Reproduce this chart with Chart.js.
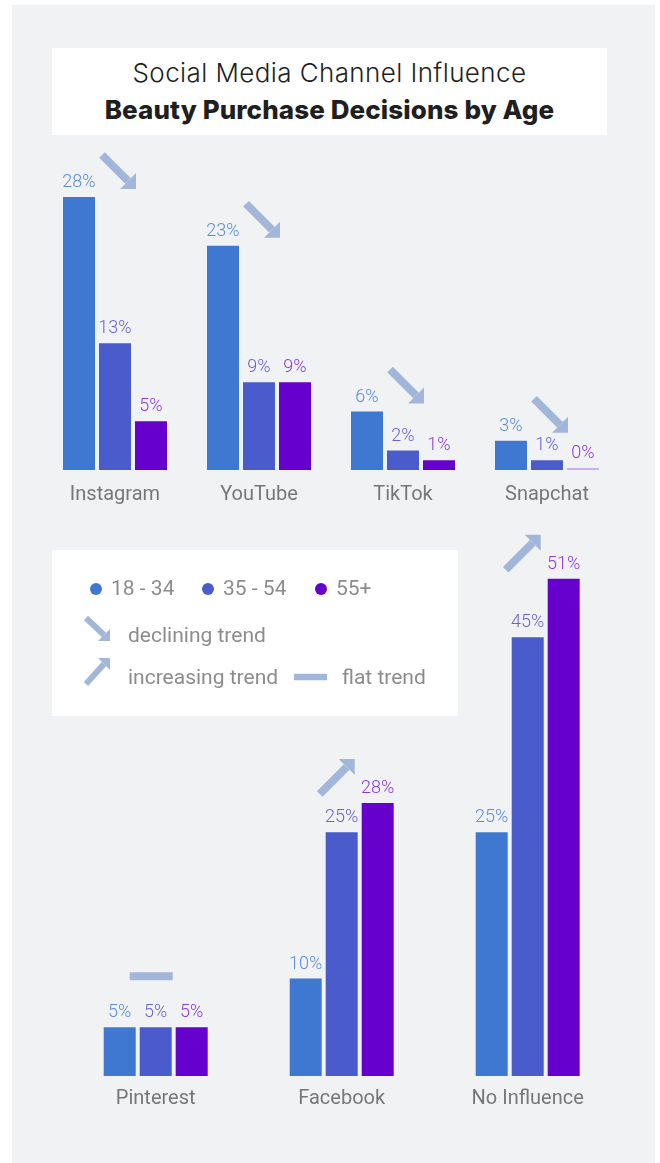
<!DOCTYPE html>
<html lang="en">
<head>
<meta charset="utf-8">
<title>Social Media Channel Influence</title>
<script src="https://cdn.jsdelivr.net/npm/chart.js@4.4.1/dist/chart.umd.min.js"></script>
<style>
  html, body { margin: 0; padding: 0; background: #fff; }
  body { position: relative; width: 660px; height: 1163px; overflow: hidden; }
  .panel { position: absolute; left: 12px; top: 5px; width: 643px; height: 1158px; background: #f1f2f4; }
  .title-box { position: absolute; left: 52px; top: 48px; width: 555px; height: 87px; background: #fff; }
  .title-box div { position: absolute; left: 0; right: 0; text-align: center; font-family: Inter, sans-serif; color: #1f1f1f; white-space: nowrap; }
  .title-box .line1 { top: 12px; font-size: 26px; line-height: 26px; font-weight: 300; letter-spacing: 0.4px; }
  .title-box .line2 { top: 49px; font-size: 26px; line-height: 26px; font-weight: 800; letter-spacing: 0.1px; }
  canvas { position: absolute; left: 0; }
  #topChart { top: 140px; }
  #bottomChart { top: 500px; }
  #legend { left: 52px; top: 550px; }
</style>
</head>
<body>
<div class="panel"></div>
<div class="title-box">
  <div class="line1">Social Media Channel Influence</div>
  <div class="line2">Beauty Purchase Decisions by Age</div>
</div>
<canvas id="topChart" width="660" height="380"></canvas>
<canvas id="bottomChart" width="660" height="640"></canvas>
<canvas id="legend" width="406" height="166"></canvas>
<script>
// data
const ageGroups = ['18 - 34', '35 - 54', '55+'];

const topChannels = ['Instagram', 'YouTube', 'TikTok', 'Snapchat'];
const topAge18to34 = [28, 23, 6, 3];
const topAge35to54 = [13, 9, 2, 1];
const topAge55plus = [5, 9, 1, 0];
const topTrends = ['down', 'down', 'down', 'down'];

const bottomChannels = ['Pinterest', 'Facebook', 'No Influence'];
const bottomAge18to34 = [5, 10, 25];
const bottomAge35to54 = [5, 25, 45];
const bottomAge55plus = [5, 28, 51];
const bottomTrends = ['flat', 'up', 'up'];

// styling
const barColors = ['#3f78d0', '#4a5ccb', '#6600cc'];
const labelColors = ['#5a8de0', '#6a62d6', '#8a3cdc'];
const zeroBarColor = '#cdb0f0';
const trendColor = '#a2b6da';
const axisColor = '#777777';
const legendTextColor = '#8c8c8c';

// thick arrow with a right-angled head at (x2, y2)
function drawArrow(ctx, x1, y1, x2, y2, head, width) {
  const dx = Math.sign(x2 - x1);
  const dy = Math.sign(y2 - y1);
  ctx.save();
  ctx.strokeStyle = trendColor;
  ctx.fillStyle = trendColor;
  ctx.lineWidth = width;
  ctx.beginPath();
  ctx.moveTo(x1, y1);
  ctx.lineTo(x2 - dx * head / 2, y2 - dy * head / 2);
  ctx.stroke();
  ctx.beginPath();
  ctx.moveTo(x2, y2);
  ctx.lineTo(x2 - dx * head, y2);
  ctx.lineTo(x2, y2 - dy * head);
  ctx.closePath();
  ctx.fill();
  ctx.restore();
}

function drawFlat(ctx, x1, x2, y, thickness) {
  ctx.save();
  ctx.fillStyle = trendColor;
  ctx.fillRect(x1, y - thickness / 2, x2 - x1, thickness);
  ctx.restore();
}

// percentage above every bar
const valueLabels = {
  id: 'valueLabels',
  afterDatasetsDraw(chart) {
    const {ctx} = chart;
    ctx.save();
    ctx.font = '300 18px Roboto';
    ctx.textAlign = 'center';
    ctx.textBaseline = 'alphabetic';
    chart.data.datasets.forEach((ds, d) => {
      ctx.fillStyle = labelColors[d];
      chart.getDatasetMeta(d).data.forEach((bar, i) => {
        ctx.fillText(ds.data[i] + '%', bar.x, bar.y - 10);
      });
    });
    ctx.restore();
  }
};

// trend marker above each channel group
const trendMarks = {
  id: 'trendMarks',
  afterDatasetsDraw(chart, args, opts) {
    const {ctx} = chart;
    const metas = chart.data.datasets.map((ds, d) => chart.getDatasetMeta(d));
    (opts.trends || []).forEach((trend, i) => {
      const bars = metas.map(m => m.data[i]);
      const cx = (bars[0].x + bars[bars.length - 1].x) / 2;
      const top = Math.min(...bars.map(b => b.y));
      if (trend === 'down') {
        drawArrow(ctx, cx - 13, top - 42, cx + 21, top - 8, 16, 8);
      } else if (trend === 'up') {
        drawArrow(ctx, cx - 22, top - 9, cx + 13, top - 44, 16, 8);
      } else {
        drawFlat(ctx, cx - 26, cx + 17, top - 51, 8);
      }
    });
  }
};

function makeDatasets(series, catPct) {
  return series.map((values, d) => ({
    label: ageGroups[d],
    data: values,
    backgroundColor: c => (c.raw === 0 ? zeroBarColor : barColors[d]),
    categoryPercentage: catPct,
    barPercentage: 0.889,
    minBarLength: 2
  }));
}

function makeOptions(yMax, padding, tickPadding, trends) {
  return {
    responsive: false,
    animation: false,
    layout: { padding },
    plugins: {
      legend: { display: false },
      tooltip: { enabled: false },
      trendMarks: { trends }
    },
    scales: {
      x: {
        grid: { display: false, drawTicks: false },
        border: { display: false },
        ticks: {
          color: axisColor,
          padding: tickPadding,
          font: { family: 'Roboto', size: 20 }
        }
      },
      y: { display: false, min: 0, max: yMax }
    }
  };
}

const topChart = new Chart(document.getElementById('topChart'), {
  type: 'bar',
  data: {
    labels: topChannels,
    datasets: makeDatasets([topAge18to34, topAge35to54, topAge55plus], 0.75)
  },
  options: makeOptions(30, { left: 43, right: 41, top: 37.5, bottom: 0 }, 13, topTrends),
  plugins: [valueLabels, trendMarks]
});

const bottomChart = new Chart(document.getElementById('bottomChart'), {
  type: 'bar',
  data: {
    labels: bottomChannels,
    datasets: makeDatasets([bottomAge18to34, bottomAge35to54, bottomAge55plus], 0.5806)
  },
  options: makeOptions(55, { left: 62.7, right: 39.3, top: 39.75, bottom: 19 }, 10.5, bottomTrends),
  plugins: [valueLabels, trendMarks]
});

// legend box
function drawLegend() {
  const canvas = document.getElementById('legend');
  const ctx = canvas.getContext('2d');
  ctx.fillStyle = '#ffffff';
  ctx.fillRect(0, 0, canvas.width, canvas.height);

  ctx.font = '21px Roboto';
  ctx.textBaseline = 'alphabetic';
  const dotX = [44, 156, 269];
  const textX = [59, 171, 284];
  ageGroups.forEach((g, i) => {
    ctx.fillStyle = barColors[i];
    ctx.beginPath();
    ctx.arc(dotX[i], 39, 6, 0, Math.PI * 2);
    ctx.fill();
    ctx.fillStyle = legendTextColor;
    ctx.fillText(g, textX[i], 45);
  });

  drawArrow(ctx, 34, 68, 58, 91, 12, 6);
  drawArrow(ctx, 34, 134, 58, 108, 12, 6);
  drawFlat(ctx, 242, 275, 127, 6.5);

  ctx.fillStyle = legendTextColor;
  ctx.fillText('declining trend', 76, 92);
  ctx.fillText('increasing trend', 76, 134);
  ctx.fillText('flat trend', 290, 134);
}
drawLegend();
</script>
</body>
</html>
